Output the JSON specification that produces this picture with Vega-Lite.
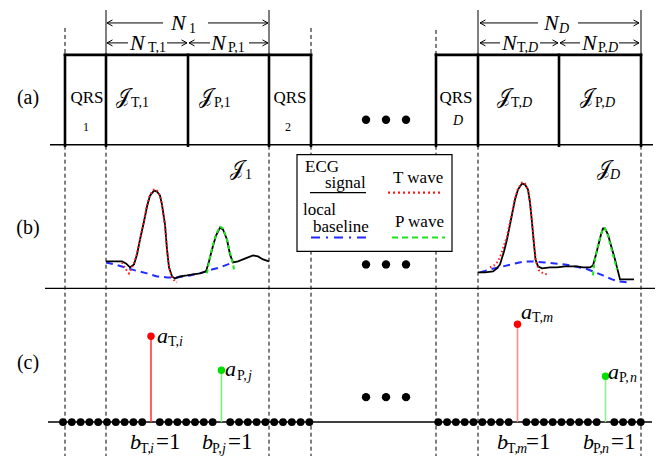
{
"$schema": "https://vega.github.io/schema/vega-lite/v6.json",
"width": 667, "height": 457,
"autosize": {"type": "fit", "contains": "padding"},
"padding": 0,
"background": "white",
"config": {"view": {"stroke": null}, "text": {"font": "Liberation Serif, Times New Roman, DejaVu Serif, serif", "color": "black", "baseline": "middle"}},
"encoding": {
  "x": {"field": "x", "type": "quantitative", "scale": {"domain": [0, 667], "nice": false, "zero": false}, "axis": null},
  "y": {"field": "y", "type": "quantitative", "scale": {"domain": [0, 457], "reverse": true, "nice": false, "zero": false}, "axis": null}
},
"layer": [
  {"data": {"values": [
    {"x": 65, "y": 146, "x2": 65, "y2": 457}, {"x": 106, "y": 146, "x2": 106, "y2": 457},
    {"x": 269, "y": 146, "x2": 269, "y2": 457}, {"x": 311, "y": 146, "x2": 311, "y2": 457},
    {"x": 436, "y": 146, "x2": 436, "y2": 457}, {"x": 478, "y": 146, "x2": 478, "y2": 457},
    {"x": 641, "y": 146, "x2": 641, "y2": 457},
    {"x": 65, "y": 28, "x2": 65, "y2": 55}, {"x": 311, "y": 28, "x2": 311, "y2": 55},
    {"x": 436, "y": 30, "x2": 436, "y2": 55}]},
   "mark": {"type": "rule", "strokeDash": [4, 3], "strokeWidth": 1, "color": "black"},
   "encoding": {"x2": {"field": "x2"}, "y2": {"field": "y2"}}},
  {"data": {"values": [{"x": 297, "y": 155, "x2": 452, "y2": 252}]},
   "mark": {"type": "rect", "fill": "white", "stroke": "black", "strokeWidth": 1.2},
   "encoding": {"x2": {"field": "x2"}, "y2": {"field": "y2"}}},
  {"data": {"values": [
    {"x": 50, "y": 145, "x2": 653, "y2": 145}, {"x": 45, "y": 289, "x2": 655, "y2": 289},
    {"x": 48, "y": 423, "x2": 652, "y2": 423}, {"x": 310, "y": 193, "x2": 366, "y2": 193}]},
   "mark": {"type": "rule", "strokeWidth": 1.4, "color": "black"},
   "encoding": {"x2": {"field": "x2"}, "y2": {"field": "y2"}}},
  {"data": {"values": [
    {"x": 106, "y": 10, "x2": 106, "y2": 55}, {"x": 269, "y": 10, "x2": 269, "y2": 55},
    {"x": 478, "y": 10, "x2": 478, "y2": 55}, {"x": 641, "y": 10, "x2": 641, "y2": 55},
    {"x": 107, "y": 23, "x2": 163, "y2": 23}, {"x": 208, "y": 23, "x2": 268, "y2": 23},
    {"x": 480, "y": 23, "x2": 538, "y2": 23}, {"x": 578, "y": 23, "x2": 639, "y2": 23},
    {"x": 107, "y": 43, "x2": 128, "y2": 43}, {"x": 167, "y": 43, "x2": 187, "y2": 43},
    {"x": 189, "y": 43, "x2": 210, "y2": 43}, {"x": 249, "y": 43, "x2": 268, "y2": 43},
    {"x": 480, "y": 43, "x2": 500, "y2": 43}, {"x": 540, "y": 43, "x2": 558, "y2": 43},
    {"x": 560, "y": 43, "x2": 580, "y2": 43}, {"x": 619, "y": 43, "x2": 639, "y2": 43}]},
   "mark": {"type": "rule", "strokeWidth": 1, "color": "black"},
   "encoding": {"x2": {"field": "x2"}, "y2": {"field": "y2"}}},
  {"data": {"values": [
    {"x": 65, "y": 55, "x2": 311, "y2": 55}, {"x": 436, "y": 55, "x2": 641, "y2": 55},
    {"x": 65, "y": 55, "x2": 65, "y2": 146}, {"x": 106, "y": 55, "x2": 106, "y2": 146},
    {"x": 188, "y": 55, "x2": 188, "y2": 146}, {"x": 269, "y": 55, "x2": 269, "y2": 146},
    {"x": 311, "y": 55, "x2": 311, "y2": 146}, {"x": 436, "y": 55, "x2": 436, "y2": 146},
    {"x": 478, "y": 55, "x2": 478, "y2": 146}, {"x": 559, "y": 55, "x2": 559, "y2": 146},
    {"x": 641, "y": 55, "x2": 641, "y2": 146}]},
   "mark": {"type": "rule", "strokeWidth": 2.6, "color": "black", "strokeCap": "square"},
   "encoding": {"x2": {"field": "x2"}, "y2": {"field": "y2"}}},
  {"data": {"values": [
    {"x": 107, "y": 23, "dir": "L"}, {"x": 268, "y": 23, "dir": "R"},
    {"x": 107, "y": 43, "dir": "L"}, {"x": 187, "y": 43, "dir": "R"},
    {"x": 189, "y": 43, "dir": "L"}, {"x": 268, "y": 43, "dir": "R"},
    {"x": 480, "y": 23, "dir": "L"}, {"x": 639, "y": 23, "dir": "R"},
    {"x": 480, "y": 43, "dir": "L"}, {"x": 558, "y": 43, "dir": "R"},
    {"x": 560, "y": 43, "dir": "L"}, {"x": 639, "y": 43, "dir": "R"}]},
   "mark": {"type": "point", "filled": false, "stroke": "black", "strokeWidth": 1, "size": 120, "opacity": 1},
   "encoding": {"shape": {"field": "dir", "type": "nominal", "scale": {"domain": ["L", "R"], "range": ["M1,-0.55L0,0L1,0.55", "M-1,-0.55L0,0L-1,0.55"]}, "legend": null}}},
  {"data": {"values": [
    {"s": "1", "x": 106, "y": 263}, {"s": "1", "x": 115, "y": 265}, {"s": "1", "x": 125, "y": 268}, {"s": "1", "x": 135, "y": 271},
    {"s": "1", "x": 147, "y": 274}, {"s": "1", "x": 157, "y": 277}, {"s": "1", "x": 167, "y": 278}, {"s": "1", "x": 177, "y": 278},
    {"s": "1", "x": 190, "y": 276}, {"s": "1", "x": 203, "y": 273}, {"s": "1", "x": 212, "y": 270}, {"s": "1", "x": 220, "y": 268},
    {"s": "1", "x": 233, "y": 263},
    {"s": "D", "x": 480, "y": 273}, {"s": "D", "x": 490, "y": 270}, {"s": "D", "x": 503, "y": 267}, {"s": "D", "x": 515, "y": 264},
    {"s": "D", "x": 525, "y": 262}, {"s": "D", "x": 533, "y": 262}, {"s": "D", "x": 545, "y": 263}, {"s": "D", "x": 555, "y": 264},
    {"s": "D", "x": 565, "y": 265}, {"s": "D", "x": 575, "y": 267}, {"s": "D", "x": 585, "y": 269}, {"s": "D", "x": 593, "y": 272},
    {"s": "D", "x": 603, "y": 276}, {"s": "D", "x": 612, "y": 280}, {"s": "D", "x": 618, "y": 282}, {"s": "D", "x": 627, "y": 283}]},
   "mark": {"type": "line", "color": "#1f2bff", "strokeWidth": 2, "strokeDash": [7, 5]},
   "encoding": {"detail": {"field": "s"}}},
  {"data": {"values": [
    {"s": "1", "x": 106, "y": 262}, {"s": "1", "x": 114, "y": 262}, {"s": "1", "x": 122, "y": 262}, {"s": "1", "x": 126, "y": 264},
    {"s": "1", "x": 130, "y": 268}, {"s": "1", "x": 134, "y": 265}, {"s": "1", "x": 137, "y": 255}, {"s": "1", "x": 140, "y": 240},
    {"s": "1", "x": 144, "y": 222}, {"s": "1", "x": 147, "y": 207}, {"s": "1", "x": 150, "y": 196}, {"s": "1", "x": 154, "y": 191},
    {"s": "1", "x": 157, "y": 192}, {"s": "1", "x": 160, "y": 196}, {"s": "1", "x": 162, "y": 205}, {"s": "1", "x": 165, "y": 225},
    {"s": "1", "x": 167, "y": 250}, {"s": "1", "x": 169, "y": 268}, {"s": "1", "x": 172, "y": 277}, {"s": "1", "x": 175, "y": 279},
    {"s": "1", "x": 180, "y": 277}, {"s": "1", "x": 187, "y": 276}, {"s": "1", "x": 193, "y": 275}, {"s": "1", "x": 200, "y": 274},
    {"s": "1", "x": 206, "y": 272}, {"s": "1", "x": 209, "y": 262}, {"s": "1", "x": 212, "y": 250}, {"s": "1", "x": 216, "y": 236},
    {"s": "1", "x": 220, "y": 228}, {"s": "1", "x": 223, "y": 230}, {"s": "1", "x": 227, "y": 240}, {"s": "1", "x": 230, "y": 255},
    {"s": "1", "x": 233, "y": 263}, {"s": "1", "x": 238, "y": 262}, {"s": "1", "x": 243, "y": 260}, {"s": "1", "x": 248, "y": 258},
    {"s": "1", "x": 253, "y": 256}, {"s": "1", "x": 258, "y": 257}, {"s": "1", "x": 263, "y": 260}, {"s": "1", "x": 269, "y": 262},
    {"s": "D", "x": 478, "y": 273}, {"s": "D", "x": 485, "y": 273}, {"s": "D", "x": 493, "y": 272}, {"s": "D", "x": 497, "y": 269},
    {"s": "D", "x": 500, "y": 265}, {"s": "D", "x": 504, "y": 252}, {"s": "D", "x": 507, "y": 240}, {"s": "D", "x": 511, "y": 220},
    {"s": "D", "x": 515, "y": 200}, {"s": "D", "x": 518, "y": 190}, {"s": "D", "x": 522, "y": 184}, {"s": "D", "x": 525, "y": 185},
    {"s": "D", "x": 528, "y": 190}, {"s": "D", "x": 530, "y": 203}, {"s": "D", "x": 532, "y": 223}, {"s": "D", "x": 534, "y": 245},
    {"s": "D", "x": 535.5, "y": 260}, {"s": "D", "x": 538, "y": 267}, {"s": "D", "x": 542, "y": 269}, {"s": "D", "x": 550, "y": 268},
    {"s": "D", "x": 557, "y": 268}, {"s": "D", "x": 565, "y": 267}, {"s": "D", "x": 570, "y": 267}, {"s": "D", "x": 577, "y": 267},
    {"s": "D", "x": 583, "y": 268}, {"s": "D", "x": 590, "y": 268}, {"s": "D", "x": 593, "y": 266}, {"s": "D", "x": 596, "y": 255},
    {"s": "D", "x": 598, "y": 247}, {"s": "D", "x": 601, "y": 235}, {"s": "D", "x": 603, "y": 229}, {"s": "D", "x": 605, "y": 229},
    {"s": "D", "x": 608, "y": 235}, {"s": "D", "x": 611, "y": 246}, {"s": "D", "x": 615, "y": 260}, {"s": "D", "x": 618, "y": 272},
    {"s": "D", "x": 620, "y": 280}, {"s": "D", "x": 627, "y": 280}, {"s": "D", "x": 634, "y": 280}]},
   "mark": {"type": "line", "color": "black", "strokeWidth": 1.8},
   "encoding": {"detail": {"field": "s"}}},
  {"data": {"values": [
    {"s": "1", "x": 122, "y": 263}, {"s": "1", "x": 126, "y": 270}, {"s": "1", "x": 129, "y": 274}, {"s": "1", "x": 132, "y": 268},
    {"s": "1", "x": 136, "y": 258}, {"s": "1", "x": 140, "y": 240}, {"s": "1", "x": 144, "y": 221}, {"s": "1", "x": 147, "y": 206},
    {"s": "1", "x": 150, "y": 195}, {"s": "1", "x": 154, "y": 190}, {"s": "1", "x": 157, "y": 191}, {"s": "1", "x": 160, "y": 196},
    {"s": "1", "x": 162, "y": 206}, {"s": "1", "x": 165, "y": 226}, {"s": "1", "x": 167, "y": 250}, {"s": "1", "x": 169, "y": 268},
    {"s": "1", "x": 172, "y": 278}, {"s": "1", "x": 175, "y": 282}, {"s": "1", "x": 177, "y": 283},
    {"s": "D", "x": 490, "y": 268}, {"s": "D", "x": 494, "y": 266}, {"s": "D", "x": 498, "y": 262}, {"s": "D", "x": 501, "y": 255},
    {"s": "D", "x": 504, "y": 246}, {"s": "D", "x": 507, "y": 237}, {"s": "D", "x": 511, "y": 218}, {"s": "D", "x": 515, "y": 199},
    {"s": "D", "x": 518, "y": 189}, {"s": "D", "x": 522, "y": 183}, {"s": "D", "x": 525, "y": 184}, {"s": "D", "x": 528, "y": 190},
    {"s": "D", "x": 530, "y": 203}, {"s": "D", "x": 532, "y": 222}, {"s": "D", "x": 534, "y": 245}, {"s": "D", "x": 536, "y": 262},
    {"s": "D", "x": 539, "y": 271}, {"s": "D", "x": 543, "y": 274}, {"s": "D", "x": 547, "y": 275}]},
   "mark": {"type": "line", "color": "#ff1a1a", "strokeWidth": 2, "strokeDash": [1.5, 2.5]},
   "encoding": {"detail": {"field": "s"}}},
  {"data": {"values": [
    {"s": "1", "x": 207, "y": 274}, {"s": "1", "x": 209, "y": 262}, {"s": "1", "x": 212, "y": 249}, {"s": "1", "x": 216, "y": 235},
    {"s": "1", "x": 220, "y": 227}, {"s": "1", "x": 223, "y": 229}, {"s": "1", "x": 227, "y": 240}, {"s": "1", "x": 230, "y": 253},
    {"s": "1", "x": 233, "y": 265}, {"s": "1", "x": 234, "y": 270},
    {"s": "D", "x": 593, "y": 276}, {"s": "D", "x": 594, "y": 266}, {"s": "D", "x": 596, "y": 255}, {"s": "D", "x": 598, "y": 246},
    {"s": "D", "x": 601, "y": 235}, {"s": "D", "x": 603, "y": 229}, {"s": "D", "x": 605, "y": 229}, {"s": "D", "x": 608, "y": 236},
    {"s": "D", "x": 611, "y": 248}, {"s": "D", "x": 614, "y": 259}, {"s": "D", "x": 617, "y": 270}]},
   "mark": {"type": "line", "color": "#19e619", "strokeWidth": 2, "strokeDash": [4, 3]},
   "encoding": {"detail": {"field": "s"}}},
  {"data": {"values": [{"x": 388, "y": 193, "x2": 443, "y2": 193}]},
   "mark": {"type": "rule", "color": "#ff1a1a", "strokeWidth": 2.2, "strokeDash": [2, 3]},
   "encoding": {"x2": {"field": "x2"}, "y2": {"field": "y2"}}},
  {"data": {"values": [{"x": 311, "y": 238, "x2": 367, "y2": 238}]},
   "mark": {"type": "rule", "color": "#1f2bff", "strokeWidth": 2.2, "strokeDash": [9, 6, 2, 6]},
   "encoding": {"x2": {"field": "x2"}, "y2": {"field": "y2"}}},
  {"data": {"values": [{"x": 392, "y": 238, "x2": 445, "y2": 238}]},
   "mark": {"type": "rule", "color": "#19e619", "strokeWidth": 2.2, "strokeDash": [6, 4]},
   "encoding": {"x2": {"field": "x2"}, "y2": {"field": "y2"}}},
  {"data": {"values": [
    {"k": "Ti", "x": 151, "y": 423, "x2": 151, "y2": 337}, {"k": "Pj", "x": 221.4, "y": 423, "x2": 221.4, "y2": 371},
    {"k": "Tm", "x": 517.5, "y": 423, "x2": 517.5, "y2": 325}, {"k": "Pn", "x": 605.5, "y": 423, "x2": 605.5, "y2": 377}]},
   "mark": {"type": "rule", "strokeWidth": 1.6},
   "encoding": {"x2": {"field": "x2"}, "y2": {"field": "y2"},
     "stroke": {"field": "k", "type": "nominal", "scale": {"domain": ["Ti", "Pj", "Tm", "Pn"], "range": ["#ff3b3b", "#7dee7d", "#ff8a8a", "#8cf08c"]}, "legend": null}}},
  {"data": {"values": [
    {"x": 63}, {"x": 71.8}, {"x": 80.6}, {"x": 89.4}, {"x": 98.2}, {"x": 107}, {"x": 115.8}, {"x": 124.6}, {"x": 133.4}, {"x": 142.2},
    {"x": 159.8}, {"x": 168.6}, {"x": 177.4}, {"x": 186.2}, {"x": 195}, {"x": 203.8}, {"x": 212.6},
    {"x": 230.2}, {"x": 239}, {"x": 247.8}, {"x": 256.6}, {"x": 265.4}, {"x": 274.2}, {"x": 283}, {"x": 291.8}, {"x": 300.6}, {"x": 309.4},
    {"x": 438.3}, {"x": 447.1}, {"x": 455.9}, {"x": 464.7}, {"x": 473.5}, {"x": 482.3}, {"x": 491.1}, {"x": 499.9}, {"x": 508.7},
    {"x": 526.3}, {"x": 535.1}, {"x": 543.9}, {"x": 552.7}, {"x": 561.5}, {"x": 570.3}, {"x": 579.1}, {"x": 587.9}, {"x": 596.7},
    {"x": 614.3}, {"x": 623.1}, {"x": 631.9}, {"x": 640.7}]},
   "transform": [{"calculate": "423", "as": "y"}],
   "mark": {"type": "point", "filled": true, "color": "black", "size": 62, "opacity": 1}},
  {"data": {"values": [
    {"k": "Ti", "x": 151, "y": 337}, {"k": "Pj", "x": 221.4, "y": 371}, {"k": "Tm", "x": 517.5, "y": 325}, {"k": "Pn", "x": 605.5, "y": 377}]},
   "mark": {"type": "point", "filled": true, "size": 55, "opacity": 1},
   "encoding": {"fill": {"field": "k", "type": "nominal", "scale": {"domain": ["Ti", "Pj", "Tm", "Pn"], "range": ["#ff0000", "#00e000", "#ff0000", "#00e000"]}, "legend": null}}},
  {"data": {"values": [
    {"x": 366, "y": 120}, {"x": 386, "y": 120}, {"x": 406, "y": 120},
    {"x": 366, "y": 265}, {"x": 386, "y": 265}, {"x": 406, "y": 265},
    {"x": 366, "y": 398}, {"x": 386, "y": 398}, {"x": 406, "y": 398}]},
   "mark": {"type": "point", "filled": true, "color": "black", "size": 70, "opacity": 1}},
  {"data": {"values": [{"x": 28, "y": 98, "t": "(a)"}, {"x": 28, "y": 228, "t": "(b)"}, {"x": 28, "y": 364, "t": "(c)"}]},
   "mark": {"type": "text", "fontSize": 20, "align": "center"}, "encoding": {"text": {"field": "t"}}},
  {"data": {"values": [{"x": 87, "y": 98, "t": "QRS"}, {"x": 290, "y": 98, "t": "QRS"}, {"x": 456, "y": 98, "t": "QRS"}]},
   "mark": {"type": "text", "fontSize": 17, "align": "center"}, "encoding": {"text": {"field": "t"}}},
  {"data": {"values": [{"x": 86, "y": 127, "t": "1"}, {"x": 288, "y": 127, "t": "2"}]},
   "mark": {"type": "text", "fontSize": 12, "align": "center"}, "encoding": {"text": {"field": "t"}}},
  {"data": {"values": [{"x": 458, "y": 121, "t": "D"}]},
   "mark": {"type": "text", "fontSize": 14, "fontStyle": "italic", "align": "center"}, "encoding": {"text": {"field": "t"}}},
  {"data": {"values": [
    {"x": 171, "y": 23, "t": "N"}, {"x": 130, "y": 43, "t": "N"}, {"x": 211, "y": 43, "t": "N"},
    {"x": 544, "y": 23, "t": "N"}, {"x": 502, "y": 43, "t": "N"}, {"x": 582, "y": 43, "t": "N"}]},
   "mark": {"type": "text", "fontSize": 22, "fontStyle": "italic", "align": "left"}, "encoding": {"text": {"field": "t"}}},
  {"data": {"values": [
    {"x": 157, "y": 337, "t": "a"}, {"x": 225, "y": 370, "t": "a"}, {"x": 521, "y": 313, "t": "a"}, {"x": 608, "y": 373, "t": "a"},
    {"x": 130, "y": 443, "t": "b"}, {"x": 202, "y": 443, "t": "b"}, {"x": 497, "y": 443, "t": "b"}, {"x": 583, "y": 443, "t": "b"}]},
   "mark": {"type": "text", "fontSize": 22, "fontStyle": "italic", "align": "left"}, "encoding": {"text": {"field": "t"}}},
  {"data": {"values": [
    {"x": 189, "y": 29, "t": "1"}, {"x": 148, "y": 48, "t": "T,1"}, {"x": 228, "y": 48, "t": "P,1"},
    {"x": 517, "y": 48, "t": "T,"}, {"x": 598, "y": 48, "t": "P,"},
    {"x": 168, "y": 343, "t": "T,"}, {"x": 237, "y": 377, "t": "P,"}, {"x": 532, "y": 319, "t": "T,"}, {"x": 619, "y": 379, "t": "P,"},
    {"x": 140, "y": 450, "t": "T,"}, {"x": 212, "y": 450, "t": "P,"}, {"x": 507, "y": 450, "t": "T,"}, {"x": 593, "y": 450, "t": "P,"},
    {"x": 131, "y": 103, "t": "T,1"}, {"x": 214, "y": 103, "t": "P,1"}, {"x": 511, "y": 103, "t": "T,"}, {"x": 595, "y": 103, "t": "P,"},
    {"x": 245, "y": 175, "t": "1"}]},
   "mark": {"type": "text", "fontSize": 14, "align": "left"}, "encoding": {"text": {"field": "t"}}},
  {"data": {"values": [
    {"x": 559, "y": 29, "t": "D"}, {"x": 528, "y": 48, "t": "D"}, {"x": 608, "y": 48, "t": "D"},
    {"x": 179, "y": 343, "t": "i"}, {"x": 248, "y": 377, "t": "j"}, {"x": 543, "y": 319, "t": "m"}, {"x": 630, "y": 379, "t": "n"},
    {"x": 150, "y": 450, "t": "i"}, {"x": 222, "y": 450, "t": "j"}, {"x": 517, "y": 450, "t": "m"}, {"x": 602, "y": 450, "t": "n"},
    {"x": 522, "y": 103, "t": "D"}, {"x": 605, "y": 103, "t": "D"}, {"x": 610, "y": 175, "t": "D"}]},
   "mark": {"type": "text", "fontSize": 14, "fontStyle": "italic", "align": "left"}, "encoding": {"text": {"field": "t"}}},
  {"data": {"values": [{"x": 156, "y": 443, "t": "=1"}, {"x": 228, "y": 443, "t": "=1"}, {"x": 526, "y": 443, "t": "=1"}, {"x": 611, "y": 443, "t": "=1"}]},
   "mark": {"type": "text", "fontSize": 23, "align": "left"}, "encoding": {"text": {"field": "t"}}},
  {"data": {"values": [
    {"x": 116, "y": 97, "t": "𝒥"}, {"x": 199, "y": 97, "t": "𝒥"}, {"x": 497, "y": 97, "t": "𝒥"}, {"x": 580, "y": 97, "t": "𝒥"},
    {"x": 230, "y": 169, "t": "𝒥"}, {"x": 597, "y": 169, "t": "𝒥"}]},
   "mark": {"type": "text", "fontSize": 20, "font": "DejaVu Serif", "align": "left"}, "encoding": {"text": {"field": "t"}}},
  {"data": {"values": [
    {"x": 305, "y": 167, "t": "ECG"}, {"x": 325, "y": 183, "t": "signal"}, {"x": 393, "y": 178, "t": "T wave"},
    {"x": 303, "y": 210, "t": "local"}, {"x": 313, "y": 227, "t": "baseline"}, {"x": 395, "y": 222, "t": "P wave"}]},
   "mark": {"type": "text", "fontSize": 17, "align": "left"}, "encoding": {"text": {"field": "t"}}}
]
}
